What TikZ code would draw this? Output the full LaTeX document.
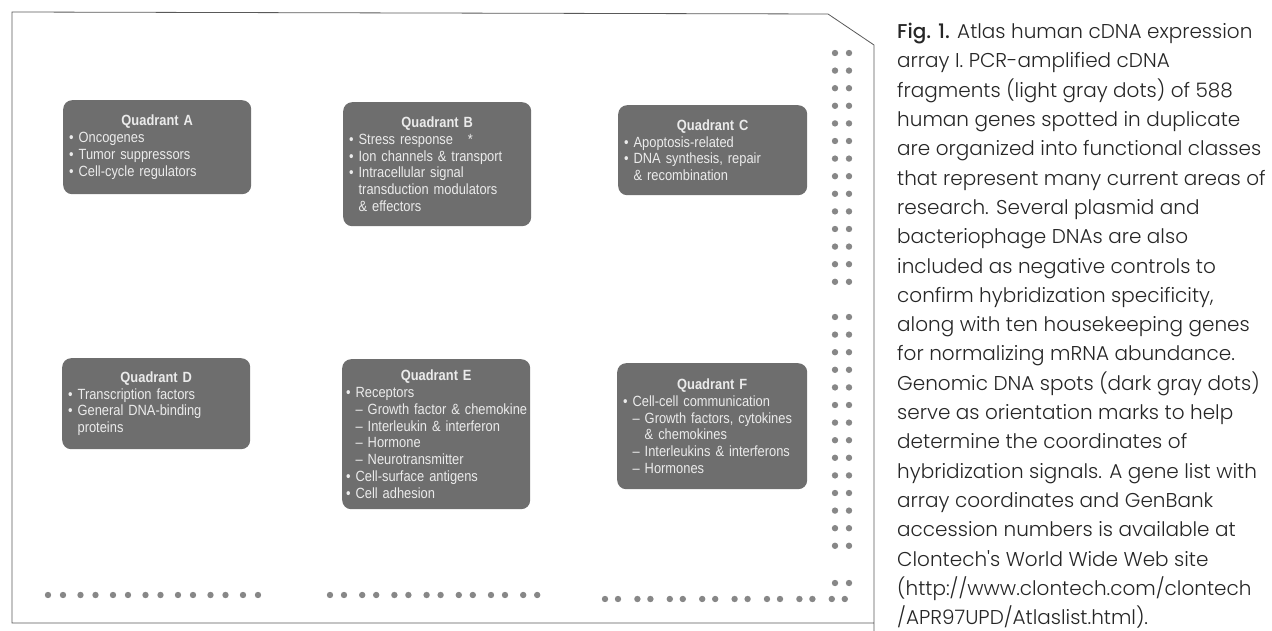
\documentclass[tikz,border=0pt]{standalone}
\usepackage{fontspec}
\newfontfamily\quadfont[FakeStretch=0.87]{Liberation Sans}
\newfontfamily\captfont[UprightFont={* Light}, BoldFont={* Medium}]{Poppins}
\newcommand\hng{\hphantom{• }}
\newcommand\qtitle[1]{\makebox[\linewidth][c]{\bfseries #1}}
\begin{document}
\begin{tikzpicture}[x=1pt,y=-1pt,
    quad/.style={fill=black!57, rounded corners=9pt, anchor=north west,
      inner xsep=6pt, inner ysep=0pt, text=white!92!black, align=left,
      font=\quadfont\fontsize{14.8}{16.8}\selectfont},
    spot/.style={fill=black!47}]
  \useasboundingbox (0,0) rectangle (1272,631);
  % membrane outline
  \draw[black!65, line width=0.8pt]
    (874,631) -- (874,45) -- (828,14) -- (12,12) -- (12,623) -- (874,623);
  % quadrants
  \node[quad, text width=176pt, minimum height=94pt] (qA) at (63,100)
    {\qtitle{Quadrant A}\\
     • Oncogenes\\
     • Tumor suppressors\\
     • Cell-cycle regulators};
  \node[quad, text width=176pt, minimum height=124pt] (qB) at (343,102)
    {\qtitle{Quadrant B}\\
     • Stress response\quad *\\
     • Ion channels \& transport\\
     • Intracellular signal\\
     \hng transduction modulators\\
     \hng \& effectors};
  \node[quad, text width=177pt, minimum height=90pt] (qC) at (618,105)
    {\qtitle{Quadrant C}\\
     • Apoptosis-related\\
     • DNA synthesis, repair\\
     \hng \& recombination};
  \node[quad, text width=176pt, minimum height=91pt] (qD) at (62,358)
    {\qtitle{Quadrant D}\\
     • Transcription factors\\
     • General DNA-binding\\
     \hng proteins};
  \node[quad, inner xsep=4pt, text width=180pt, minimum height=150pt] (qE) at (342,359)
    {\qtitle{Quadrant E}\\
     • Receptors\\
     \hng \mbox{– Growth factor \& chemokine}\\
     \hng – Interleukin \& interferon\\
     \hng – Hormone\\
     \hng – Neurotransmitter\\
     • Cell-surface antigens\\
     • Cell adhesion};
  \node[quad, text width=178pt, minimum height=126pt] (qF) at (617,363)
    {\qtitle{Quadrant F}\\
     • Cell-cell communication\\
     \hng – Growth factors, cytokines\\
     \hng \hphantom{– }\& chemokines\\
     \hng – Interleukins \& interferons\\
     \hng – Hormones};
  % genomic DNA spots
  \foreach \i in {0,...,13} {
    \fill[spot] (835,{53+17.6*\i}) circle (3.2pt);
    \fill[spot] (849,{53+17.6*\i}) circle (3.2pt);
    \fill[spot] (835,{317+17.6*\i}) circle (3.2pt);
    \fill[spot] (849,{317+17.6*\i}) circle (3.2pt);
  }
  \fill[spot] (835,583) circle (3.2pt);
  \fill[spot] (849,583) circle (3.2pt);
  \foreach \i in {0,...,6} {
    \fill[spot] ({48+32.5*\i},595) circle (3.2pt);
    \fill[spot] ({63+32.5*\i},595) circle (3.2pt);
    \fill[spot] ({330+32.2*\i},595) circle (3.2pt);
    \fill[spot] ({344+32.2*\i},595) circle (3.2pt);
  }
  \foreach \i in {0,...,7} {
    \fill[spot] ({605+32.4*\i},599) circle (3.2pt);
    \fill[spot] ({618+32.4*\i},599) circle (3.2pt);
  }
  % caption
  \node[anchor=north west, inner sep=0pt, align=left, text=black!85,
    font=\captfont\fontsize{20}{29.3}\selectfont] (capt) at (897,23)
    {\textbf{Fig. 1.} Atlas human cDNA expression\\
     array I. PCR-amplified cDNA\\
     fragments (light gray dots) of 588\\
     human genes spotted in duplicate\\
     are organized into functional classes\\
     that represent many current areas of\\
     research. Several plasmid and\\
     bacteriophage DNAs are also\\
     included as negative controls to\\
     confirm hybridization specificity,\\
     along with ten housekeeping genes\\
     for normalizing mRNA abundance.\\
     Genomic DNA spots (dark gray dots)\\
     serve as orientation marks to help\\
     determine the coordinates of\\
     hybridization signals. A gene list with\\
     array coordinates and GenBank\\
     accession numbers is available at\\
     Clontech's World Wide Web site\\
     (http://www.clontech.com/clontech\\
     /APR97UPD/Atlaslist.html).};
\end{tikzpicture}
\end{document}
